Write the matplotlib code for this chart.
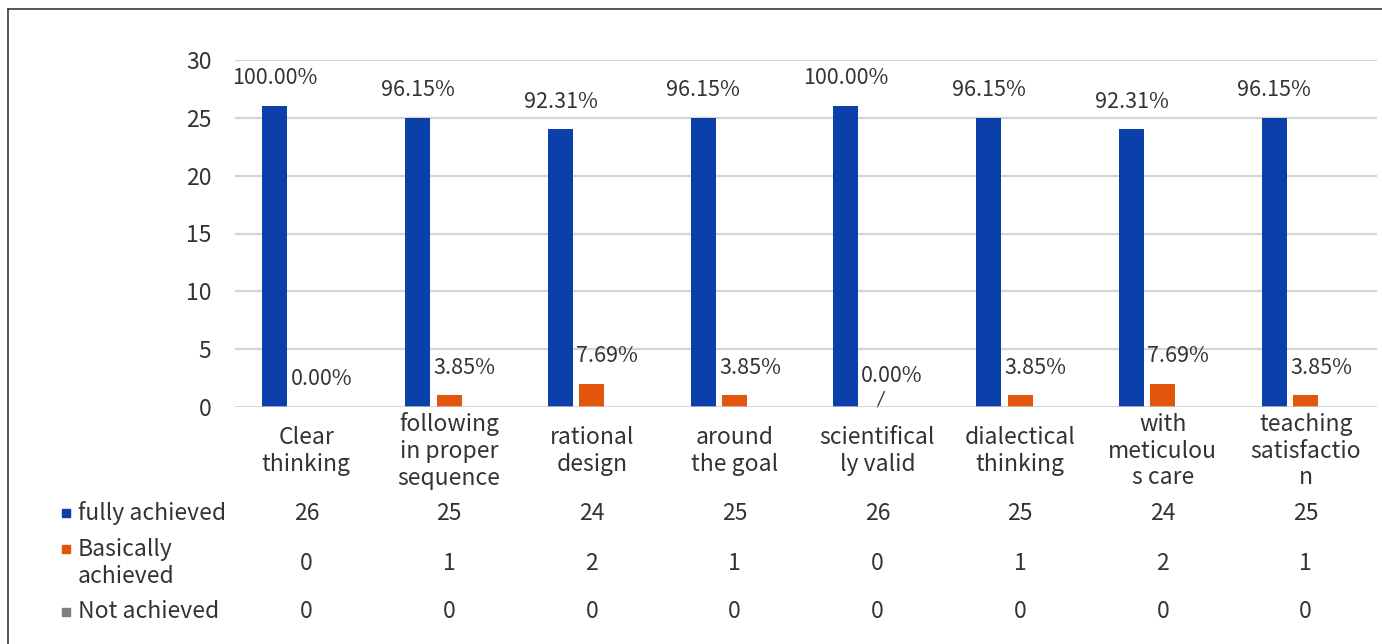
import numpy as np
import matplotlib
matplotlib.use('Agg')
import matplotlib.pyplot as plt
from matplotlib.patches import Rectangle
from matplotlib.lines import Line2D

plt.rcParams['font.family'] = ['Noto Sans CJK SC', 'DejaVu Sans']

# data
categories = ['Clear\nthinking', 'following\nin proper\nsequence', 'rational\ndesign',
              'around\nthe goal', 'scientifical\nly valid', 'dialectical\nthinking',
              'with\nmeticulou\ns care', 'teaching\nsatisfactio\nn']
fully = [26, 25, 24, 25, 26, 25, 24, 25]
basically = [0, 1, 2, 1, 0, 1, 2, 1]
not_achieved = [0, 0, 0, 0, 0, 0, 0, 0]
series_names = ['fully achieved', 'Basically\nachieved', 'Not achieved']
colors = ['#0B3FAA', '#E2560C', '#7F7F7F']

W, H = 1382, 644
fig = plt.figure(figsize=(W / 100, H / 100), dpi=100)
ax = fig.add_axes([235 / W, (H - 407) / H, 1142 / W, 347 / H])

x = np.arange(len(categories))
bw = 0.175
off = 0.22
ax.bar(x - off, fully, bw, color=colors[0], zorder=3)
ax.bar(x, basically, bw, color=colors[1], zorder=3)
ax.bar(x + off, not_achieved, bw, color=colors[2], zorder=3)

ax.set_xlim(-0.5, len(categories) - 0.5)
ax.set_ylim(0, 30)
ax.set_yticks(range(0, 31, 5))
ax.set_xticks([])
ax.tick_params(axis='y', length=0, pad=17, labelsize=16.5, labelcolor='#333333')
for s in ax.spines.values():
    s.set_visible(False)
for yv in range(5, 31, 5):
    ax.axhline(yv, color='#D4D4D4', lw=1.6, zorder=1)
ax.axhline(0, color='#C8C8C8', lw=1.8, zorder=4)

totals = [a + b + c for a, b, c in zip(fully, basically, not_achieved)]
tc = '#333333'
fs_pct = 15.5
for i in range(len(categories)):
    ax.annotate('%.2f%%' % (fully[i] / totals[i] * 100), (x[i] - off, fully[i]),
                xytext=(0, 20), textcoords='offset points', ha='center', va='center',
                fontsize=fs_pct, color=tc)
    lbl = '%.2f%%' % (basically[i] / totals[i] * 100)
    if i == 4:
        # moved label with leader line
        ax.annotate(lbl, (x[i], 0), xytext=(10, 22), textcoords='offset points',
                    ha='center', va='center', fontsize=fs_pct, color=tc,
                    arrowprops=dict(arrowstyle='-', color='#404040', lw=1,
                                    shrinkA=1, shrinkB=0))
    else:
        ax.annotate(lbl, (x[i], basically[i]), xytext=(11, 20), textcoords='offset points',
                    ha='center', va='center', fontsize=fs_pct, color=tc)

# category labels
xt = ax.get_xaxis_transform()
for i, c in enumerate(categories):
    ax.text(x[i], -0.127, c, transform=xt, ha='center', va='center',
            fontsize=16.5, color=tc, linespacing=1.2)

# data table
rows = [fully, basically, not_achieved]
row_y = [513, 563, 612]
for r, vals in enumerate(rows):
    yf = (407 - row_y[r]) / 347
    for i, v in enumerate(vals):
        ax.text(x[i], yf, str(v), transform=xt, ha='center', va='center',
                fontsize=16.5, color=tc)
    fy = (H - row_y[r]) / H
    fig.text(78 / W, fy, series_names[r], ha='left', va='center', fontsize=16.5,
             color=tc, linespacing=1.2)
    my = fy + (14 / H if r == 1 else 0)
    fig.add_artist(Rectangle((62 / W, my - 4 / H), 8 / W, 8 / H, color=colors[r],
                             transform=fig.transFigure))

# outer frame
fig.add_artist(Line2D([7.5 / W, 7.5 / W], [0, 1 - 9 / H], color='#3A3A3A', lw=1.2,
                      transform=fig.transFigure))
fig.add_artist(Line2D([7.5 / W, 1], [1 - 9 / H, 1 - 9 / H], color='#3A3A3A', lw=1.2,
                      transform=fig.transFigure))

fig.savefig('out.png', dpi=100)
